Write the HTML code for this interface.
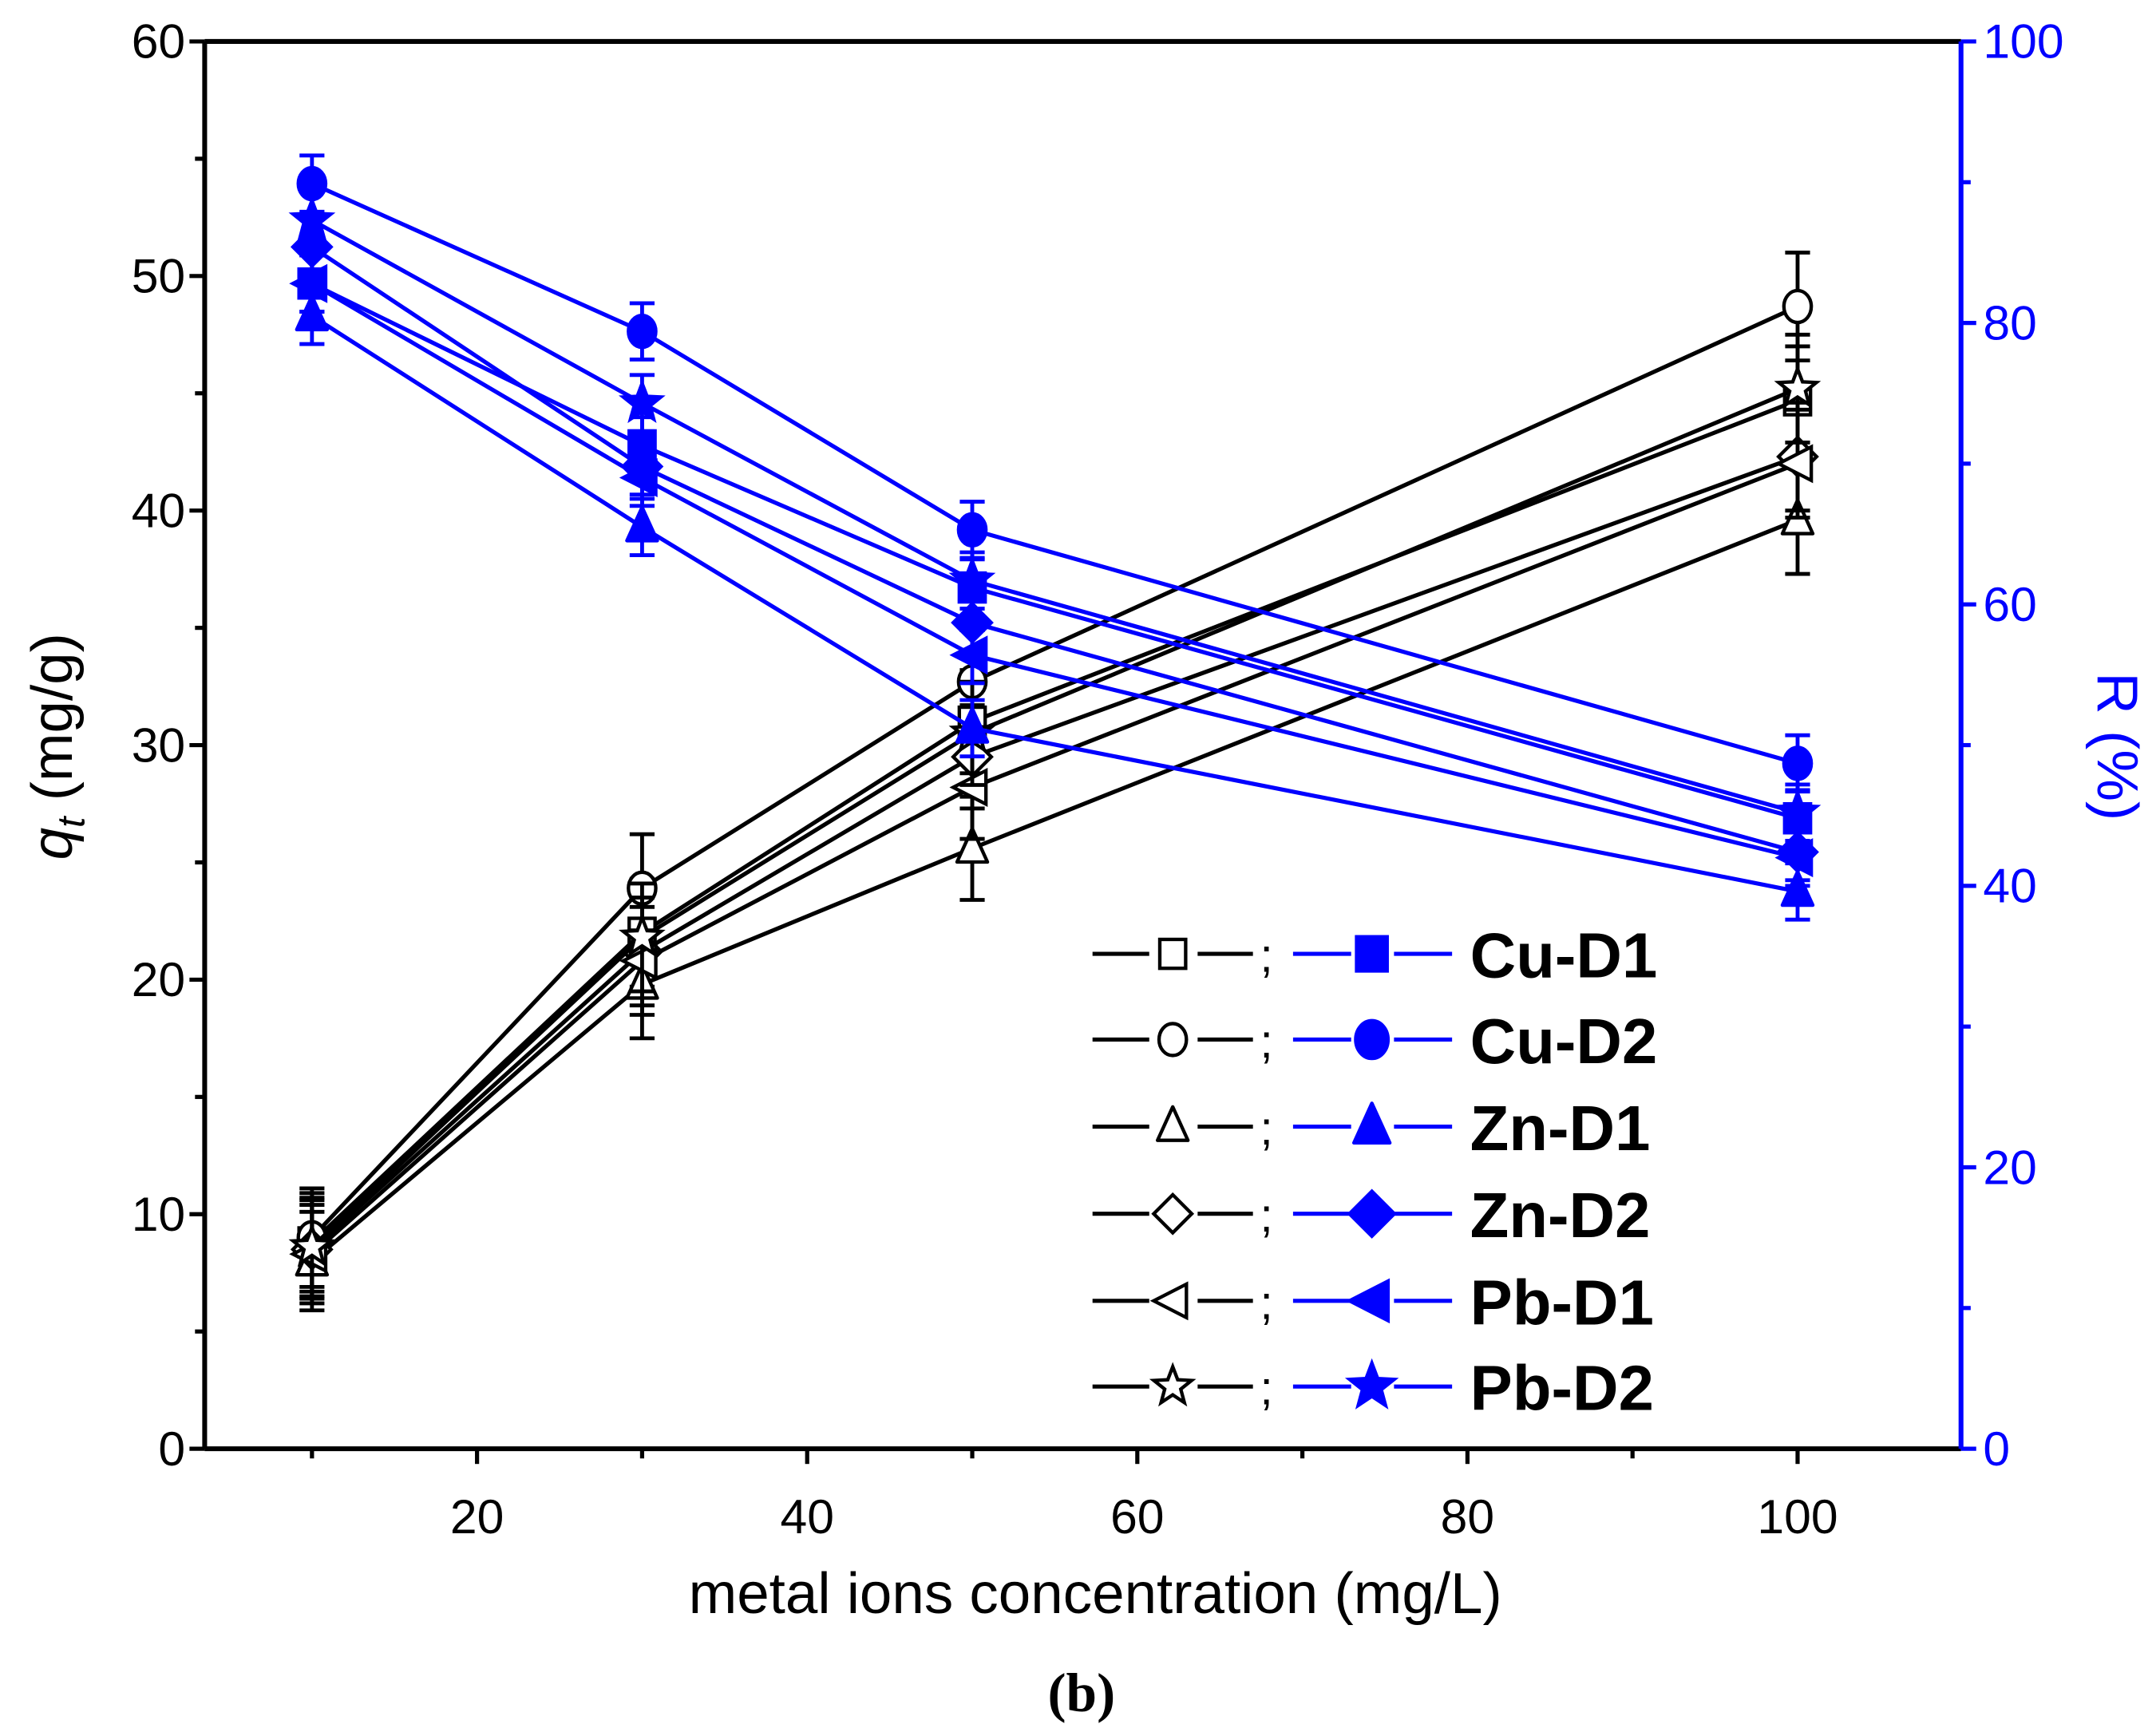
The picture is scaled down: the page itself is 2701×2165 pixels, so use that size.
<!DOCTYPE html>
<html><head><meta charset="utf-8"><style>
html,body{margin:0;padding:0;background:#fff;}
svg{display:block;}
text{font-family:"Liberation Sans",sans-serif;}
</style></head><body>
<svg id="chart" width="2701" height="2165" viewBox="0 0 1559 1250" preserveAspectRatio="none" xmlns="http://www.w3.org/2000/svg">
<rect width="1559" height="1250" fill="#fff"/>
<g id="axes"></g>
<g id="series"></g>
<g id="legend"></g>
</svg>
<script>
const xValues=[10,30,50,100];
const seriesNames=["Cu-D1","Cu-D2","Zn-D1","Zn-D2","Pb-D1","Pb-D2"];
const markers=["square","circle","triangle","diamond","ltriangle","star"];
const qCuD1=[8.8,22.0,31.0,44.7];
const qCuD2=[9.0,23.9,32.7,48.7];
const qZnD1=[8.0,19.8,25.6,39.6];
const qZnD2=[8.5,21.2,29.5,42.3];
const qPbD1=[8.3,20.8,28.2,42.0];
const qPbD2=[8.6,21.8,30.5,45.2];
const qErr=[2.1,2.3,2.2,2.3];
const rCuD1=[82.8,71.3,61.2,44.8];
const rCuD2=[89.9,79.4,65.3,48.7];
const rZnD1=[80.5,65.5,51.2,39.6];
const rZnD2=[85.4,69.8,58.7,42.4];
const rPbD1=[82.8,69.0,56.4,42.0];
const rPbD2=[87.3,74.3,61.7,45.2];
const rErr=[2.0,2.0,2.0,2.0];
const xTicks=[20,40,60,80,100];
const yLeftTicks=[0,10,20,30,40,50,60];
const yRightTicks=[0,20,40,60,80,100];

const L=148,R=1418,T=30,B=1048;
const xMin=3.5,xMax=109.9;
const X=v=>L+(v-xMin)/(xMax-xMin)*(R-L);
const YL=v=>B-v/60*(B-T);
const YR=v=>B-v/100*(B-T);
const NS="http://www.w3.org/2000/svg";
function el(tag,attrs,parent){const e=document.createElementNS(NS,tag);for(const k in attrs)e.setAttribute(k,attrs[k]);parent.appendChild(e);return e;}
const axes=document.getElementById('axes');
const ser=document.getElementById('series');
const leg=document.getElementById('legend');

let a=el('line',{x1:L,y1:B,x2:R,y2:B,stroke:'#000','stroke-width':3.5},axes);

a=el('line',{x1:L,y1:T,x2:R,y2:T,stroke:'#000','stroke-width':3.5},axes);

a=el('line',{x1:L,y1:T,x2:L,y2:B,stroke:'#000','stroke-width':3.5},axes);

a=el('line',{x1:R,y1:T,x2:R,y2:B,stroke:'#00f','stroke-width':3.5},axes);


for(let v=10;v<=100;v+=10){const major=v%20===0;
 const t=el('line',{x1:X(v),y1:B,x2:X(v),y2:B+(major?11:7),stroke:'#000','stroke-width':3},axes);
 }
xTicks.forEach(v=>{const t=el('text',{x:X(v),y:B+61,'font-size':35,'text-anchor':'middle'},axes);t.textContent=v;
 });
for(let v=0;v<=60;v+=5){const major=v%10===0;
 const t=el('line',{x1:L,y1:YL(v),x2:L-(major?11:7),y2:YL(v),stroke:'#000','stroke-width':3},axes);
 }
yLeftTicks.forEach(v=>{const t=el('text',{x:L-14,y:YL(v)+12,'font-size':35,'text-anchor':'end'},axes);t.textContent=v;
 });
for(let v=0;v<=100;v+=10){const major=v%20===0;
 const t=el('line',{x1:R,y1:YR(v),x2:R+(major?11:7),y2:YR(v),stroke:'#00f','stroke-width':3},axes);
 }
yRightTicks.forEach(v=>{const t=el('text',{x:R+16,y:YR(v)+12,'font-size':35,'text-anchor':'start',fill:'#00f'},axes);t.textContent=v;
 });

let tt=el('text',{x:792,y:1167,'font-size':42,'text-anchor':'middle'},axes);
tt.textContent='metal ions concentration (mg/L)';

tt=el('text',{transform:'translate(52,540) rotate(-90)','font-size':42,'text-anchor':'middle'},axes);
tt.innerHTML='<tspan font-style="italic">q</tspan><tspan font-style="italic" font-size="28" dy="9">t</tspan><tspan dy="-9"> (mg/g)</tspan>';

tt=el('text',{transform:'translate(1517,540) rotate(90)','font-size':42,'text-anchor':'middle',fill:'#00f'},axes);
tt.textContent='R (%)';

tt=el('text',{x:782,y:1238,'font-size':40,'text-anchor':'middle','font-weight':'bold'},axes);
tt.textContent='(b)';tt.style.fontFamily='"Liberation Serif",serif';


function marker(type,cx,cy,color,filled,parent,s){
 s=s||11;const fill=filled?color:'#fff';const sw=2.5;let e;
 if(type==='square')e=el('rect',{x:cx-s*0.85,y:cy-s*0.95,width:s*1.7,height:s*1.9,fill,stroke:color,'stroke-width':sw},parent);
 else if(type==='circle')e=el('ellipse',{cx,cy,rx:s*0.9,ry:s*1.05,fill,stroke:color,'stroke-width':sw},parent);
 else if(type==='triangle')e=el('polygon',{points:`${cx},${cy-s*1.3} ${cx+s},${cy+s*0.9} ${cx-s},${cy+s*0.9}`,fill,stroke:color,'stroke-width':sw,'stroke-linejoin':'round'},parent);
 else if(type==='diamond')e=el('polygon',{points:`${cx},${cy-s*1.25} ${cx+s*1.25},${cy} ${cx},${cy+s*1.25} ${cx-s*1.25},${cy}`,fill,stroke:color,'stroke-width':sw},parent);
 else if(type==='ltriangle')e=el('polygon',{points:`${cx-s*1.25},${cy} ${cx+s*0.9},${cy-s*1.1} ${cx+s*0.9},${cy+s*1.1}`,fill,stroke:color,'stroke-width':sw},parent);
 else {let p=[];for(let i=0;i<10;i++){const r=i%2?s*0.55:s*1.3;const ang=-Math.PI/2+i*Math.PI/5;p.push((cx+r*Math.cos(ang)).toFixed(1)+','+(cy+r*Math.sin(ang)).toFixed(1));}
  e=el('polygon',{points:p.join(' '),fill,stroke:color,'stroke-width':sw},parent);}
 return e;
}

const qData=[qCuD1,qCuD2,qZnD1,qZnD2,qPbD1,qPbD2];
const rData=[rCuD1,rCuD2,rZnD1,rZnD2,rPbD1,rPbD2];
function drawSeries(data,err,Y,color,filled,tag){
 data.forEach((vals,si)=>{
  const g=el('g',{},ser);
  
  
  const pts=vals.map((v,i)=>X(xValues[i])+','+Y(v)).join(' ');
  const pl=el('polyline',{points:pts,fill:'none',stroke:color,'stroke-width':3},g);
  
  vals.forEach((v,i)=>{const x=X(xValues[i]);
   const eb=el('path',{d:`M${x},${Y(v-err[i])}V${Y(v+err[i])}M${x-9},${Y(v-err[i])}H${x+9}M${x-9},${Y(v+err[i])}H${x+9}`,stroke:color,'stroke-width':2.8,fill:'none'},g);
   
   const m=marker(markers[si],x,Y(v),color,filled,g,11);
   
  });
 });
}
drawSeries(qData,qErr,YL,'#000',false,'qt');
drawSeries(rData,rErr,YR,'#00f',true,'removal');

const rows=[690,752,815,878,941,1003];
seriesNames.forEach((n,i)=>{const y=rows[i];
 const g=el('g',{},leg);
 
 
 el('line',{x1:790,y1:y,x2:831,y2:y,stroke:'#000','stroke-width':3},g);
 el('line',{x1:866,y1:y,x2:906,y2:y,stroke:'#000','stroke-width':3},g);
 marker(markers[i],848,y,'#000',false,g,11);
 const sc=el('text',{x:911,y:y+13,'font-size':34},g);sc.textContent=';';
 el('line',{x1:935,y1:y,x2:977,y2:y,stroke:'#00f','stroke-width':3},g);
 el('line',{x1:1008,y1:y,x2:1050,y2:y,stroke:'#00f','stroke-width':3},g);
 marker(markers[i],992,y,'#00f',true,g,13);
 const t=el('text',{x:1063,y:y+17,'font-size':46,'font-weight':'bold'},g);t.textContent=n;
});
</script>
</body></html>
